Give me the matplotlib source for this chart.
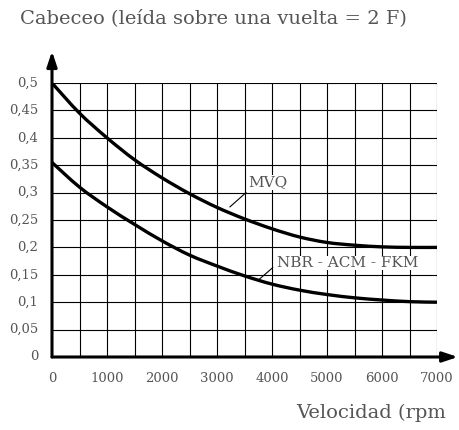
import matplotlib
matplotlib.use("Agg")
import matplotlib.pyplot as plt
from matplotlib.path import Path
from matplotlib.patches import PathPatch
import numpy as np

rpm = [0, 500, 1000, 1500, 2000, 2500, 3000, 3500, 4000, 4500, 5000, 5500, 6000, 6500, 7000]
mvq = [0.500, 0.445, 0.400, 0.360, 0.327, 0.298, 0.273, 0.252, 0.234, 0.219, 0.209, 0.204, 0.201, 0.200, 0.200]
nbr = [0.355, 0.310, 0.274, 0.242, 0.212, 0.186, 0.166, 0.148, 0.133, 0.122, 0.114, 0.108, 0.104, 0.101, 0.100]

x_ticks = [0, 1000, 2000, 3000, 4000, 5000, 6000, 7000]
y_ticks = [0, 0.05, 0.1, 0.15, 0.2, 0.25, 0.3, 0.35, 0.4, 0.45, 0.5]
y_labels = ["0", "0,05", "0,1", "0,15", "0,2", "0,25", "0,3", "0,35", "0,4", "0,45", "0,5"]

title = "Cabeceo (leída sobre una vuelta = 2 F)"
xlabel = "Velocidad (rpm"

font = "DejaVu Serif"
tcol = "#555555"


def smooth_path(xs, ys):
    """Catmull-Rom curve through the points, as cubic Bezier segments."""
    pts = np.column_stack([np.asarray(xs, float), np.asarray(ys, float)])
    verts = [pts[0]]
    codes = [Path.MOVETO]
    n = len(pts)
    for i in range(n - 1):
        p0 = pts[i - 1] if i > 0 else pts[i]
        p1 = pts[i]
        p2 = pts[i + 1]
        p3 = pts[i + 2] if i + 2 < n else pts[i + 1]
        verts += [p1 + (p2 - p0) / 6.0, p2 - (p3 - p1) / 6.0, p2]
        codes += [Path.CURVE4] * 3
    return Path(verts, codes)


fig = plt.figure(figsize=(4.59, 4.30), dpi=100)
ax = fig.add_axes([52 / 459, (430 - 357) / 430, 385 / 459, 274 / 430])
ax.set_xlim(0, 7000)
ax.set_ylim(0, 0.5)

# grid every 500 rpm and every 0.05
for gx in np.arange(500, 7001, 500):
    ax.axvline(gx, color="black", lw=0.8, zorder=1)
for gy in np.arange(0.05, 0.501, 0.05):
    ax.axhline(gy, color="black", lw=0.8, zorder=1)

for s in ax.spines.values():
    s.set_visible(False)
ax.set_xticks([])
ax.set_yticks([])

# axes with arrows
ax.annotate("", xy=(7380, 0), xytext=(0, 0), annotation_clip=False,
            arrowprops=dict(arrowstyle="-|>,head_length=0.9,head_width=0.3", color="black", lw=2.2,
                            shrinkA=0, shrinkB=0))
ax.annotate("", xy=(0, 0.558), xytext=(0, 0), annotation_clip=False,
            arrowprops=dict(arrowstyle="-|>,head_length=0.9,head_width=0.3", color="black", lw=2.2,
                            shrinkA=0, shrinkB=0))

for series in (mvq, nbr):
    ax.add_patch(PathPatch(smooth_path(rpm, series), facecolor="none", edgecolor="black",
                           lw=2.4, zorder=3, capstyle="butt"))

for v, lab in zip(y_ticks, y_labels):
    ax.text(-250, v, lab, ha="right", va="center", fontsize=9.5, family=font, color=tcol)
for v in x_ticks:
    ax.text(v, -0.04, str(v), ha="center", va="center", fontsize=9.5, family=font, color=tcol)

# curve labels with leader lines
ax.plot([3236, 3527], [0.274, 0.300], color="black", lw=0.8, zorder=3)
ax.text(3564, 0.319, "MVQ", fontsize=11, family=font, color=tcol, va="center", ha="left",
        bbox=dict(facecolor="white", edgecolor="none", pad=0.3), zorder=4)
ax.plot([3770, 4013], [0.142, 0.163], color="black", lw=0.8, zorder=3)
ax.text(4085, 0.1715, "NBR - ACM - FKM", fontsize=11, family=font, color=tcol, va="center", ha="left",
        bbox=dict(facecolor="white", edgecolor="none", pad=0.3), zorder=4)

fig.text(20 / 459, 1 - 18 / 430, title, fontsize=14, family=font, color=tcol, ha="left", va="center")
fig.text(446 / 459, 1 - 413 / 430, xlabel, fontsize=14, family=font, color=tcol, ha="right", va="center")

fig.savefig("out.png", dpi=100)
